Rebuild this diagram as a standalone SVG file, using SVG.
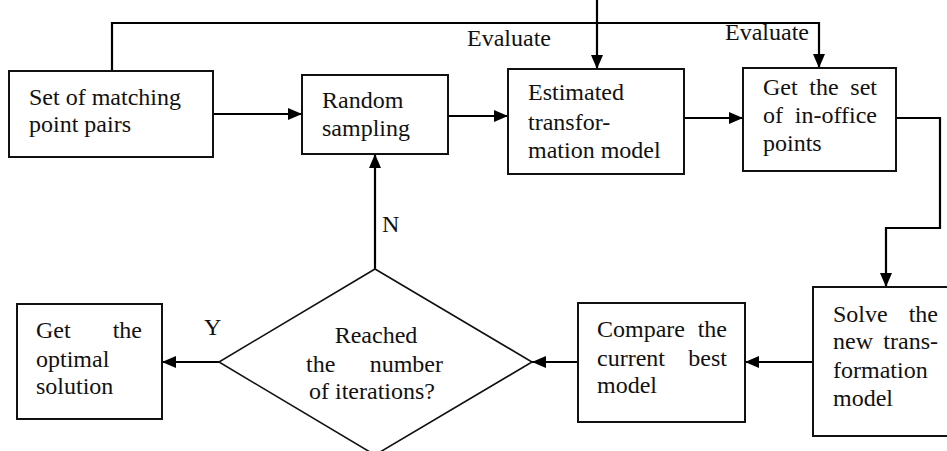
<svg xmlns="http://www.w3.org/2000/svg" width="947" height="451" viewBox="0 0 947 451">
<style>
.box{fill:#fff;stroke:#111;stroke-width:2}
.dia{fill:#fff;stroke:#111;stroke-width:1.6}
.c{fill:none;stroke:#000;stroke-width:2.2}
text{font-family:'Liberation Serif','DejaVu Serif',serif;font-size:24px;fill:#111}
.e{text-anchor:end}
.m{text-anchor:middle}
</style>
<defs>
<marker id="ah" markerUnits="userSpaceOnUse" markerWidth="14" markerHeight="12" refX="14" refY="6" orient="auto">
<path d="M0,0 L14,6 L0,12 z" fill="#000"/>
</marker>
</defs>
<rect width="947" height="451" fill="#fff"/>
<g id="connectors">
<path class="c" d="M213,114 L302,114" marker-end="url(#ah)"/>
<path class="c" d="M448,116 L508,116" marker-end="url(#ah)"/>
<path class="c" d="M684,118 L743,118" marker-end="url(#ah)"/>
<path class="c" d="M112,71 L112,23 L819,23 L819,68" marker-end="url(#ah)"/>
<path class="c" d="M597,0 L597,69" marker-end="url(#ah)"/>
<path class="c" d="M896,118 L940,118 L940,228 L886,228 L886,287" marker-end="url(#ah)"/>
<path class="c" d="M813,362 L745,362" marker-end="url(#ah)"/>
<path class="c" d="M578,362 L532,362" marker-end="url(#ah)"/>
<path class="c" d="M219,362 L162,362" marker-end="url(#ah)"/>
<path class="c" d="M375,269 L375,154" marker-end="url(#ah)"/>
<text x="467" y="46">Evaluate</text>
<text x="725" y="40">Evaluate</text>
<text x="382" y="232">N</text>
<text x="204" y="335">Y</text>
</g>
<g id="n1">
<rect class="box" x="9" y="71" width="204" height="86"/>
<text x="29" y="105">Set of matching</text>
<text x="29" y="132">point pairs</text>
</g>
<g id="n2">
<rect class="box" x="302" y="75" width="146" height="79"/>
<text x="322" y="108">Random</text>
<text x="322" y="136">sampling</text>
</g>
<g id="n3">
<rect class="box" x="508" y="69" width="176" height="105"/>
<text x="528" y="100">Estimated</text>
<text x="528" y="130">transfor-</text>
<text x="528" y="158">mation model</text>
</g>
<g id="n4">
<rect class="box" x="743" y="68" width="153" height="103"/>
<text x="763" y="95">Get</text><text class="m" x="824" y="95">the</text><text class="e" x="877" y="95">set</text>
<text x="763" y="123">of</text><text class="e" x="877" y="123">in-office</text>
<text x="763" y="151">points</text>
</g>
<g id="n5">
<rect class="box" x="813" y="287" width="140" height="149"/>
<text x="833" y="322">Solve</text><text class="e" x="938" y="322">the</text>
<text x="833" y="349">new</text><text class="e" x="938" y="349">trans-</text>
<text x="833" y="378">formation</text>
<text x="833" y="406">model</text>
</g>
<g id="n6">
<rect class="box" x="578" y="303" width="167" height="119"/>
<text x="597" y="337">Compare</text><text class="e" x="727" y="337">the</text>
<text x="597" y="366">current</text><text class="e" x="727" y="366">best</text>
<text x="597" y="393">model</text>
</g>
<g id="n7">
<polygon class="dia" points="375,269 532,362 375,455 219,362"/>
<text class="m" x="376" y="343">Reached</text>
<text x="306" y="372">the</text><text class="e" x="443" y="372">number</text>
<text class="m" x="372" y="399">of iterations?</text>
</g>
<g id="n8">
<rect class="box" x="17" y="304" width="145" height="115"/>
<text x="36" y="338">Get</text><text class="e" x="142" y="338">the</text>
<text x="36" y="367">optimal</text>
<text x="36" y="394">solution</text>
</g>
</svg>
